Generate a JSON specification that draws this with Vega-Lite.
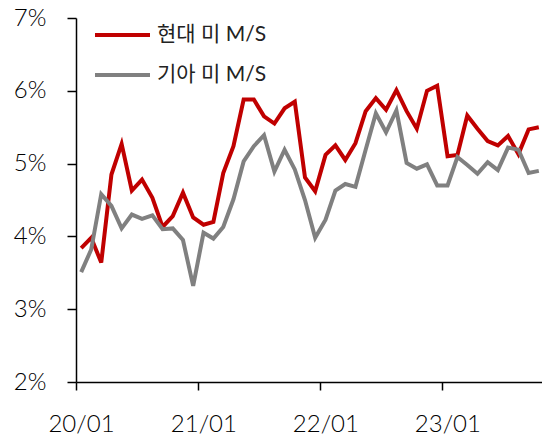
{
  "$schema": "https://vega.github.io/schema/vega-lite/v6.json",
  "width": 468,
  "height": 364,
  "autosize": {"type": "none"},
  "padding": {"left": 76, "top": 18, "right": 0, "bottom": 56},
  "background": "white",
  "config": {"view": {"stroke": null}, "font": "Lato, 'Noto Sans CJK KR'"},
  "data": {"values": [
    {"month":"2020-01","brand":"현대 미 M/S","share":3.84},{"month":"2020-02","brand":"현대 미 M/S","share":3.98},{"month":"2020-03","brand":"현대 미 M/S","share":3.64},{"month":"2020-04","brand":"현대 미 M/S","share":4.85},{"month":"2020-05","brand":"현대 미 M/S","share":5.27},{"month":"2020-06","brand":"현대 미 M/S","share":4.63},{"month":"2020-07","brand":"현대 미 M/S","share":4.78},{"month":"2020-08","brand":"현대 미 M/S","share":4.53},{"month":"2020-09","brand":"현대 미 M/S","share":4.13},{"month":"2020-10","brand":"현대 미 M/S","share":4.28},{"month":"2020-11","brand":"현대 미 M/S","share":4.60},{"month":"2020-12","brand":"현대 미 M/S","share":4.26},
    {"month":"2021-01","brand":"현대 미 M/S","share":4.16},{"month":"2021-02","brand":"현대 미 M/S","share":4.20},{"month":"2021-03","brand":"현대 미 M/S","share":4.87},{"month":"2021-04","brand":"현대 미 M/S","share":5.24},{"month":"2021-05","brand":"현대 미 M/S","share":5.88},{"month":"2021-06","brand":"현대 미 M/S","share":5.88},{"month":"2021-07","brand":"현대 미 M/S","share":5.65},{"month":"2021-08","brand":"현대 미 M/S","share":5.55},{"month":"2021-09","brand":"현대 미 M/S","share":5.76},{"month":"2021-10","brand":"현대 미 M/S","share":5.85},{"month":"2021-11","brand":"현대 미 M/S","share":4.81},{"month":"2021-12","brand":"현대 미 M/S","share":4.62},
    {"month":"2022-01","brand":"현대 미 M/S","share":5.12},{"month":"2022-02","brand":"현대 미 M/S","share":5.25},{"month":"2022-03","brand":"현대 미 M/S","share":5.05},{"month":"2022-04","brand":"현대 미 M/S","share":5.28},{"month":"2022-05","brand":"현대 미 M/S","share":5.72},{"month":"2022-06","brand":"현대 미 M/S","share":5.90},{"month":"2022-07","brand":"현대 미 M/S","share":5.74},{"month":"2022-08","brand":"현대 미 M/S","share":6.01},{"month":"2022-09","brand":"현대 미 M/S","share":5.72},{"month":"2022-10","brand":"현대 미 M/S","share":5.48},{"month":"2022-11","brand":"현대 미 M/S","share":6.00},{"month":"2022-12","brand":"현대 미 M/S","share":6.07},
    {"month":"2023-01","brand":"현대 미 M/S","share":5.10},{"month":"2023-02","brand":"현대 미 M/S","share":5.12},{"month":"2023-03","brand":"현대 미 M/S","share":5.66},{"month":"2023-04","brand":"현대 미 M/S","share":5.48},{"month":"2023-05","brand":"현대 미 M/S","share":5.31},{"month":"2023-06","brand":"현대 미 M/S","share":5.25},{"month":"2023-07","brand":"현대 미 M/S","share":5.38},{"month":"2023-08","brand":"현대 미 M/S","share":5.13},{"month":"2023-09","brand":"현대 미 M/S","share":5.47},{"month":"2023-10","brand":"현대 미 M/S","share":5.50},
    {"month":"2020-01","brand":"기아 미 M/S","share":3.51},{"month":"2020-02","brand":"기아 미 M/S","share":3.82},{"month":"2020-03","brand":"기아 미 M/S","share":4.58},{"month":"2020-04","brand":"기아 미 M/S","share":4.42},{"month":"2020-05","brand":"기아 미 M/S","share":4.11},{"month":"2020-06","brand":"기아 미 M/S","share":4.30},{"month":"2020-07","brand":"기아 미 M/S","share":4.24},{"month":"2020-08","brand":"기아 미 M/S","share":4.29},{"month":"2020-09","brand":"기아 미 M/S","share":4.10},{"month":"2020-10","brand":"기아 미 M/S","share":4.11},{"month":"2020-11","brand":"기아 미 M/S","share":3.95},{"month":"2020-12","brand":"기아 미 M/S","share":3.32},
    {"month":"2021-01","brand":"기아 미 M/S","share":4.05},{"month":"2021-02","brand":"기아 미 M/S","share":3.97},{"month":"2021-03","brand":"기아 미 M/S","share":4.13},{"month":"2021-04","brand":"기아 미 M/S","share":4.51},{"month":"2021-05","brand":"기아 미 M/S","share":5.03},{"month":"2021-06","brand":"기아 미 M/S","share":5.24},{"month":"2021-07","brand":"기아 미 M/S","share":5.39},{"month":"2021-08","brand":"기아 미 M/S","share":4.89},{"month":"2021-09","brand":"기아 미 M/S","share":5.19},{"month":"2021-10","brand":"기아 미 M/S","share":4.92},{"month":"2021-11","brand":"기아 미 M/S","share":4.50},{"month":"2021-12","brand":"기아 미 M/S","share":3.98},
    {"month":"2022-01","brand":"기아 미 M/S","share":4.23},{"month":"2022-02","brand":"기아 미 M/S","share":4.63},{"month":"2022-03","brand":"기아 미 M/S","share":4.72},{"month":"2022-04","brand":"기아 미 M/S","share":4.68},{"month":"2022-05","brand":"기아 미 M/S","share":5.19},{"month":"2022-06","brand":"기아 미 M/S","share":5.69},{"month":"2022-07","brand":"기아 미 M/S","share":5.43},{"month":"2022-08","brand":"기아 미 M/S","share":5.73},{"month":"2022-09","brand":"기아 미 M/S","share":5.01},{"month":"2022-10","brand":"기아 미 M/S","share":4.93},{"month":"2022-11","brand":"기아 미 M/S","share":4.99},{"month":"2022-12","brand":"기아 미 M/S","share":4.70},
    {"month":"2023-01","brand":"기아 미 M/S","share":4.70},{"month":"2023-02","brand":"기아 미 M/S","share":5.09},{"month":"2023-03","brand":"기아 미 M/S","share":4.98},{"month":"2023-04","brand":"기아 미 M/S","share":4.86},{"month":"2023-05","brand":"기아 미 M/S","share":5.02},{"month":"2023-06","brand":"기아 미 M/S","share":4.91},{"month":"2023-07","brand":"기아 미 M/S","share":5.22},{"month":"2023-08","brand":"기아 미 M/S","share":5.19},{"month":"2023-09","brand":"기아 미 M/S","share":4.87},{"month":"2023-10","brand":"기아 미 M/S","share":4.90}
  ]},
  "mark": {"type": "line", "strokeWidth": 4},
  "encoding": {
    "x": {
      "field": "month", "type": "temporal", "timeUnit": "utcyearmonth", "bandPosition": 0.5,
      "scale": {"domain": [{"year": 2020, "month": 1, "date": 1, "utc": true}, {"year": 2023, "month": 11, "date": 1, "utc": true}], "nice": false},
      "axis": {
        "title": null, "grid": false,
        "values": [{"year": 2020, "month": 1, "date": 1, "utc": true}, {"year": 2021, "month": 1, "date": 1, "utc": true}, {"year": 2022, "month": 1, "date": 1, "utc": true}, {"year": 2023, "month": 1, "date": 1, "utc": true}],
        "format": "%y/%m", "labelFlush": false, "labelOffset": 5,
        "tickSize": 8, "tickWidth": 1.5, "tickColor": "black",
        "domainWidth": 1.5, "domainColor": "black",
        "labelFontSize": 24, "labelFontWeight": 300, "labelColor": "black", "labelPadding": 22
      }
    },
    "y": {
      "field": "share", "type": "quantitative",
      "scale": {"domain": [2, 7], "nice": false, "zero": false},
      "axis": {
        "title": null, "grid": false, "values": [2, 3, 4, 5, 6, 7],
        "labelExpr": "datum.value + '%'",
        "tickSize": 9, "tickWidth": 1.5, "tickColor": "black",
        "domainWidth": 1.5, "domainColor": "black",
        "labelFontSize": 24, "labelFontWeight": 300, "labelColor": "black", "labelPadding": 21
      }
    },
    "color": {
      "field": "brand", "type": "nominal",
      "scale": {"domain": ["현대 미 M/S", "기아 미 M/S"], "range": ["#C00000", "#808080"]},
      "legend": {
        "title": null, "orient": "none", "legendX": 17, "legendY": -12.5, "padding": 0,
        "symbolType": "stroke", "symbolSize": 3025, "symbolStrokeWidth": 4,
        "labelFontSize": 21, "labelFontWeight": 400, "labelOffset": 5, "rowPadding": -8, "labelColor": "#222222"
      }
    }
  }
}
